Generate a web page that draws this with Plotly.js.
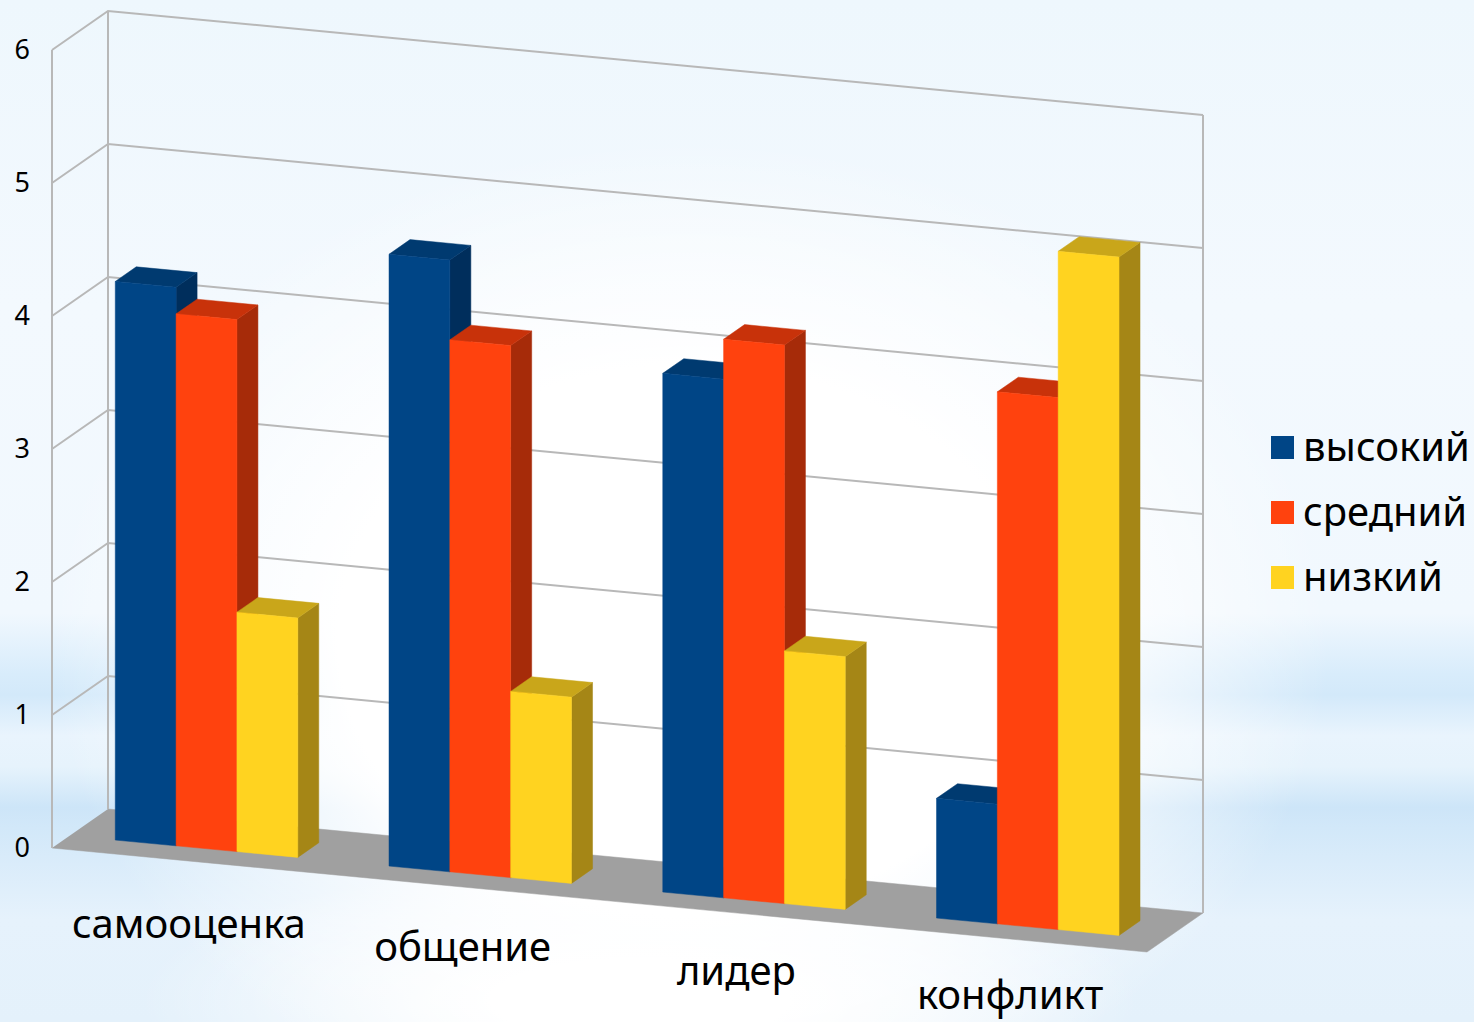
<!DOCTYPE html>
<html><head><meta charset="utf-8">
<script src="https://cdn.plot.ly/plotly-3.0.1.min.js"></script>
<style>
html,body{margin:0;padding:0;width:1474px;height:1022px;overflow:hidden;
background:
 radial-gradient(ellipse 640px 500px at 690px 640px, rgba(255,255,255,1) 55%, rgba(255,255,255,0) 100%),
 radial-gradient(ellipse 500px 140px at 640px 1000px, rgba(255,255,255,1) 30%, rgba(255,255,255,0) 100%),
 linear-gradient(to bottom,#eef7fd 0,#f3f9fe 30%,#f1f8fe 60%,#d8ecfb 66%,#d3e9fa 68%,#e9f4fd 72%,#e6f3fc 75%,#cde5f8 79%,#d2e8f9 81%,#e6f2fc 90%,#e4f1fb 100%);}
#chart{width:1474px;height:1022px;}
</style></head><body><div id="chart"></div>
<script>
const categories = ['самооценка','общение','лидер','конфликт'];
const vysokiy = [4.2,4.6,3.9,0.9];
const sredniy = [4.0,4.0,4.2,4.0];
const nizkiy  = [1.8,1.4,1.9,5.1];
const seriesNames = ['высокий','средний','низкий'];
const valueTicks = [0,1,2,3,4,5,6];

// oblique projection (units: x = pixels, y = value units)
const unit = 133, W = 1095, SL = 104/unit, DX = 56, DY = 39/unit, X0 = 52;
const proj = (X,D,v)=>[X0+X*W+D*DX, v-X*SL+D*DY];
const barW = 0.25/4.5, halfGap = 0.75*barW, D0 = 0.315, D1 = 0.69;

const face = (pts)=>pts.map(p=>proj(...p));
function push(arrX,arrY,poly){ poly.forEach(p=>{arrX.push(p[0]);arrY.push(p[1]);}); arrX.push(poly[0][0],null); arrY.push(poly[0][1],null); }
const polyTrace=(x,y,color,name)=>({type:'scatter',mode:'lines',x,y,fill:'toself',fillcolor:color,
  line:{color:color,width:0.5},hoverinfo:'skip',showlegend:false,name});

const traces=[];
// floor
const f=face([[0,0,0],[1,0,0],[1,1,0],[0,1,0]]);
traces.push(polyTrace(f.map(p=>p[0]),f.map(p=>p[1]),'#a0a0a0','floor'));
// walls and grid
const gx=[],gy=[];
valueTicks.forEach(v=>{ if(v>0){[[0,0,v],[0,1,v],[1,1,v]].map(p=>proj(...p)).forEach(p=>{gx.push(p[0]);gy.push(p[1]);}); gx.push(null);gy.push(null);} });
const maxTick=valueTicks[valueTicks.length-1];
[[0,0],[0,1],[1,1]].forEach(([X,D])=>{const a=proj(X,D,0),b=proj(X,D,maxTick);gx.push(a[0],b[0],null);gy.push(a[1],b[1],null);});
traces.push({type:'scatter',mode:'lines',x:gx,y:gy,line:{color:'#b8b8b8',width:2},hoverinfo:'skip',showlegend:false,name:'grid'});

const series=[[vysokiy,'#004586','#003a70','#002e5c'],[sredniy,'#ff420e','#c8320a','#a62b09'],[nizkiy,'#ffd320','#c9a61a','#a58616']];
series.forEach(([vals,cf,ct,cs],si)=>{
  const fx=[],fy=[],tx=[],ty=[],sx=[],sy=[];
  vals.forEach((v,ci)=>{
    const a=ci*0.25+halfGap+si*barW,b=a+barW;
    push(sx,sy,face([[b,D0,0],[b,D1,0],[b,D1,v],[b,D0,v]]));
    push(tx,ty,face([[a,D0,v],[b,D0,v],[b,D1,v],[a,D1,v]]));
    push(fx,fy,face([[a,D0,0],[b,D0,0],[b,D0,v],[a,D0,v]]));
  });
  traces.push(polyTrace(sx,sy,cs,seriesNames[si]+' side'));
  traces.push(polyTrace(tx,ty,ct,seriesNames[si]+' top'));
  traces.push(polyTrace(fx,fy,cf,seriesNames[si]));
});
// category labels
const labelDrop=[67,64,62,60].map(d=>d/unit);
const lp=categories.map((c,i)=>proj(0.125+i*0.25,0,-labelDrop[i]));
traces.push({type:'scatter',mode:'text',x:lp.map(p=>p[0]),y:lp.map(p=>p[1]),text:categories,
  textposition:'middle center',textfont:{family:'"Noto Sans",sans-serif',size:40,color:'#000'},hoverinfo:'skip',showlegend:false,name:'categories'});
// legend
const legPix=[447.5,512.5,577.5];
const legTextDrop=3.5;
seriesNames.forEach((n,i)=>{
  const vy=(848-legPix[i])/unit;
  traces.push({type:'scatter',mode:'markers',x:[1282.5],y:[vy],marker:{symbol:'square',size:23,color:series[i][1]},hoverinfo:'skip',showlegend:false,name:n+' key'});
  traces.push({type:'scatter',mode:'text',x:[1303],y:[vy-legTextDrop/unit],text:[n],textposition:'middle right',
    textfont:{family:'"Noto Sans",sans-serif',size:40,color:'#000'},hoverinfo:'skip',showlegend:false,name:n+' label'});
});

const ml=31;
const layout={width:1474,height:1022,margin:{l:ml,r:0,t:0,b:0},paper_bgcolor:'rgba(0,0,0,0)',plot_bgcolor:'rgba(0,0,0,0)',showlegend:false,
  xaxis:{range:[ml,1474],visible:false,fixedrange:true},
  yaxis:{range:[(848-1022)/unit,848/unit],tickmode:'array',tickvals:valueTicks,ticktext:valueTicks.map(String),ticks:'',showgrid:false,zeroline:false,showline:false,
    tickfont:{family:'"Noto Sans",sans-serif',size:27,color:'#000'},fixedrange:true}};
Plotly.newPlot('chart',traces,layout,{displayModeBar:false,staticPlot:true});
</script></body></html>
